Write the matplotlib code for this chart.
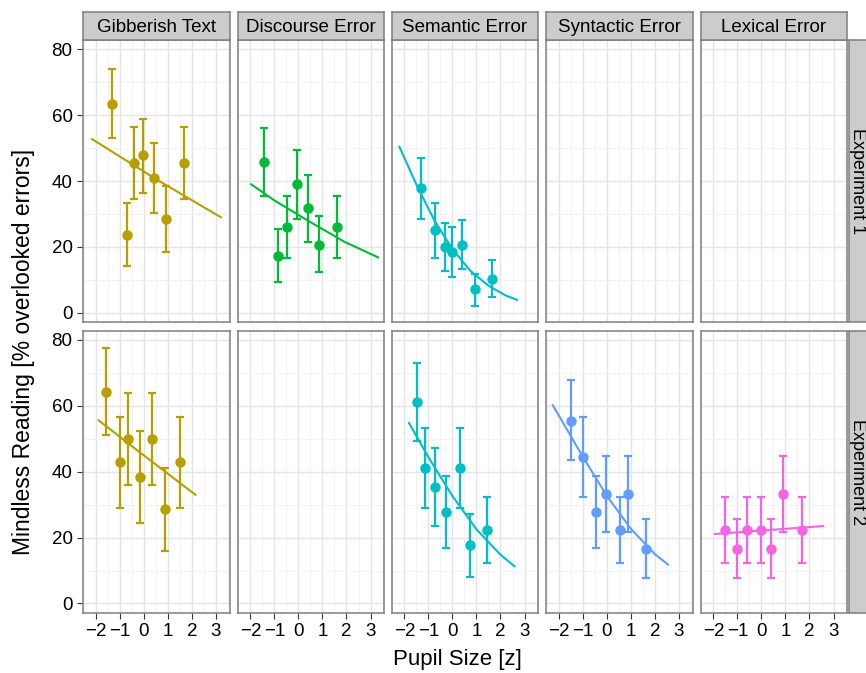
import matplotlib
matplotlib.use('Agg')
import matplotlib.pyplot as plt

plt.rcParams['font.family'] = ['Liberation Sans', 'DejaVu Sans']

# facet labels
conditions = ['Gibberish Text', 'Discourse Error', 'Semantic Error', 'Syntactic Error', 'Lexical Error']
experiments = ['Experiment 1', 'Experiment 2']
colors = ['#B79F00', '#00BA38', '#00BFC4', '#619CFF', '#F564E3']

x_ticks = [-2, -1, 0, 1, 2, 3]
y_ticks = [0, 20, 40, 60, 80]

# binned points per panel: x, y, lower, upper, plus the fitted curve
gib1_x = [-1.33, -0.68, -0.39, -0.04, 0.43, 0.94, 1.69]
gib1_y = [63.4, 23.7, 45.5, 47.8, 41.0, 28.4, 45.5]
gib1_lo = [53.1, 14.2, 34.5, 36.4, 30.2, 18.4, 34.4]
gib1_hi = [74.0, 33.3, 56.3, 58.7, 51.5, 38.5, 56.3]
gib1_fit_x = [-2.15, 0.5, 3.21]
gib1_fit_y = [52.7, 40.6, 29.0]

dis1_x = [-1.42, -0.85, -0.47, -0.07, 0.41, 0.86, 1.60]
dis1_y = [45.8, 17.3, 26.1, 39.2, 31.9, 20.6, 26.1]
dis1_lo = [35.5, 9.2, 16.6, 28.6, 21.5, 12.4, 16.6]
dis1_hi = [56.1, 25.4, 35.5, 49.5, 41.9, 29.3, 35.4]
dis1_fit_x = [-1.97, -1.0, 0.41, 1.9, 3.32]
dis1_fit_y = [39.0, 34.1, 27.9, 21.6, 16.8]

sem1_x = [-1.31, -0.73, -0.31, 0.00, 0.41, 0.93, 1.65]
sem1_y = [37.9, 25.0, 20.0, 18.6, 20.6, 7.1, 10.3]
sem1_lo = [28.6, 16.6, 12.6, 10.9, 13.2, 2.2, 4.7]
sem1_hi = [47.0, 33.3, 27.3, 26.0, 28.2, 11.8, 16.0]
sem1_fit_x = [-2.21, -1.5, -0.75, 0.0, 0.75, 1.5, 2.2, 2.69]
sem1_fit_y = [50.4, 38.9, 28.0, 19.3, 12.7, 8.2, 5.3, 3.9]

gib2_x = [-1.56, -0.99, -0.64, -0.14, 0.35, 0.87, 1.51]
gib2_y = [64.2, 42.9, 49.9, 38.3, 49.9, 28.7, 42.9]
gib2_lo = [51.1, 29.1, 36.1, 24.3, 36.1, 15.9, 29.1]
gib2_hi = [77.6, 56.6, 63.8, 52.5, 63.8, 41.1, 56.6]
gib2_fit_x = [-1.88, 0.1, 2.15]
gib2_fit_y = [55.6, 44.4, 33.0]

sem2_x = [-1.49, -1.14, -0.74, -0.25, 0.33, 0.72, 1.45]
sem2_y = [61.1, 41.1, 35.4, 27.7, 41.1, 17.7, 22.3]
sem2_lo = [49.3, 28.9, 23.4, 16.9, 28.9, 8.1, 12.2]
sem2_hi = [72.9, 53.4, 47.1, 38.6, 53.4, 27.1, 32.2]
sem2_fit_x = [-1.81, -1.0, 0.0, 1.0, 2.0, 2.58]
sem2_fit_y = [54.8, 44.4, 32.6, 22.5, 14.8, 11.3]

syn2_x = [-1.47, -0.99, -0.46, -0.03, 0.54, 0.90, 1.64]
syn2_y = [55.3, 44.5, 27.7, 33.1, 22.2, 33.1, 16.5]
syn2_lo = [43.5, 32.3, 16.9, 21.8, 12.2, 21.8, 7.6]
syn2_hi = [67.7, 56.5, 38.6, 44.8, 32.2, 44.8, 25.7]
syn2_fit_x = [-2.25, -1.0, 0.0, 1.0, 2.0, 2.55]
syn2_fit_y = [60.2, 44.6, 32.7, 22.7, 15.0, 11.8]

lex2_x = [-1.53, -1.00, -0.61, 0.00, 0.41, 0.89, 1.70]
lex2_y = [22.3, 16.5, 22.3, 22.3, 16.5, 33.1, 22.3]
lex2_lo = [12.2, 7.6, 12.2, 12.2, 7.6, 21.8, 12.2]
lex2_hi = [32.2, 25.7, 32.2, 32.2, 25.7, 44.7, 32.2]
lex2_fit_x = [-1.93, 2.57]
lex2_fit_y = [21.1, 23.5]

panels = {
    (0, 0): (gib1_x, gib1_y, gib1_lo, gib1_hi, gib1_fit_x, gib1_fit_y),
    (0, 1): (dis1_x, dis1_y, dis1_lo, dis1_hi, dis1_fit_x, dis1_fit_y),
    (0, 2): (sem1_x, sem1_y, sem1_lo, sem1_hi, sem1_fit_x, sem1_fit_y),
    (1, 0): (gib2_x, gib2_y, gib2_lo, gib2_hi, gib2_fit_x, gib2_fit_y),
    (1, 2): (sem2_x, sem2_y, sem2_lo, sem2_hi, sem2_fit_x, sem2_fit_y),
    (1, 3): (syn2_x, syn2_y, syn2_lo, syn2_hi, syn2_fit_x, syn2_fit_y),
    (1, 4): (lex2_x, lex2_y, lex2_lo, lex2_hi, lex2_fit_x, lex2_fit_y),
}

W, H = 866, 673
fig = plt.figure(figsize=(W / 100, H / 100), dpi=100)


def box(l, t, w, h):
    # place an axes by pixel box, measured from the top-left corner
    return fig.add_axes([l / W, 1 - (t + h) / H, w / W, h / H])


col_left = [83, 237.7, 391.7, 546, 700.7]
row_top = [40, 330.7]
pw, ph = 146.5, 282

border = '#7F7F7F'
for r in range(2):
    for c in range(5):
        ax = box(col_left[c], row_top[r], pw, ph)
        ax.set_xlim(-2.53, 3.57)
        ax.set_ylim(-2.8, 82.8)
        ax.set_xticks(x_ticks)
        ax.set_xticks([-2.5, -1.5, -0.5, 0.5, 1.5, 2.5, 3.5], minor=True)
        ax.set_yticks(y_ticks)
        ax.set_yticks([10, 30, 50, 70], minor=True)
        ax.grid(which='major', color='#E5E5E5', lw=1.0)
        ax.grid(which='minor', color='#F2F2F2', lw=0.8)
        ax.set_axisbelow(True)
        for s in ax.spines.values():
            s.set_color(border)
            s.set_linewidth(1.1)
        ax.tick_params(which='minor', length=0)
        ax.tick_params(which='major', length=4, color='#333333', labelsize=13.5, width=0.8)
        if r == 0:
            ax.tick_params(axis='x', length=0, labelbottom=False)
        if c > 0:
            ax.tick_params(axis='y', length=0, labelleft=False)
        if (r, c) in panels:
            px, py, lo, hi, fx, fy = panels[(r, c)]
            yerr = [[y - l for y, l in zip(py, lo)], [h - y for y, h in zip(py, hi)]]
            ax.errorbar(px, py, yerr=yerr, fmt='o', color=colors[c], ms=6.5,
                        elinewidth=1.6, capsize=3, capthick=1.6)
            ax.plot(fx, fy, color=colors[c], lw=1.5)

# column strips
for c in range(5):
    s = box(col_left[c], 11.7, pw, 28.3)
    s.set_xticks([])
    s.set_yticks([])
    s.set_facecolor('#CCCCCC')
    for sp in s.spines.values():
        sp.set_color(border)
        sp.set_linewidth(1.1)
    s.text(0.5, 0.45, conditions[c], ha='center', va='center', fontsize=13.5,
           transform=s.transAxes)

# row strips, running past the right edge like the reference
for r in range(2):
    s = box(848.7, row_top[r], 25, ph)
    s.set_xticks([])
    s.set_yticks([])
    s.set_facecolor('#CCCCCC')
    for sp in s.spines.values():
        sp.set_color(border)
        sp.set_linewidth(1.1)
    fig.text(857.5 / W, 1 - (row_top[r] + ph / 2) / H, experiments[r], ha='center',
             va='center', fontsize=13, rotation=270)

fig.text(24 / W, 1 - 352 / H, 'Mindless Reading [% overlooked errors]', rotation=90,
         ha='center', va='center', fontsize=16.5)
fig.text(457 / W, 1 - 660 / H, 'Pupil Size [z]', ha='center', va='center', fontsize=16)

fig.savefig('out.png', dpi=100)
